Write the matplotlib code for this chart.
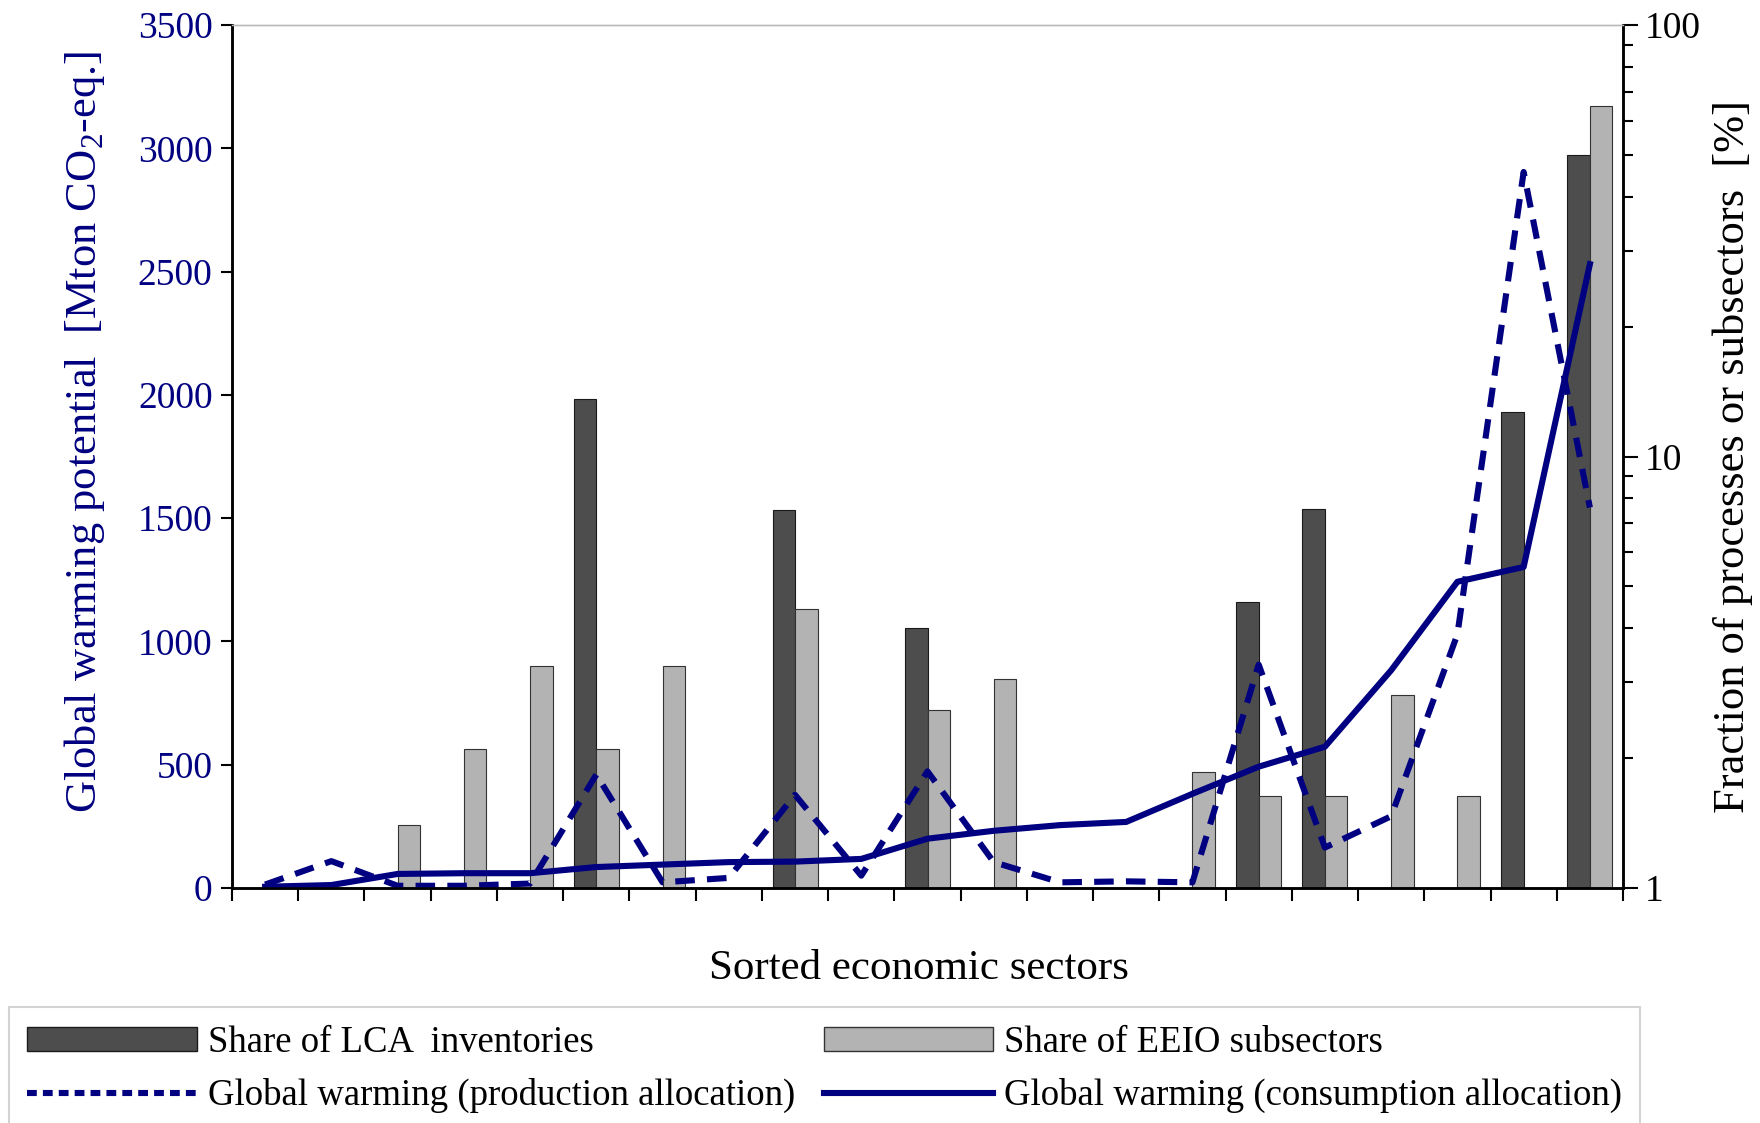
import numpy as np
import matplotlib.pyplot as plt
from matplotlib.lines import Line2D
from matplotlib.patches import Patch

plt.rcParams['font.family'] = ['Liberation Serif', 'DejaVu Serif']
plt.rcParams['mathtext.fontset'] = 'custom'
plt.rcParams['mathtext.rm'] = 'Liberation Serif'

# 21 sorted economic sectors
sectors = np.arange(21)

# share of LCA inventories / EEIO subsectors [%] (nan = no bar)
nan = np.nan
lca_share = [nan, nan, nan, nan, nan, 13.6, nan, nan, 7.5, nan, 4.0,
             nan, nan, nan, nan, 4.6, 7.55, nan, nan, 12.7, 50.0]
eeio_share = [nan, nan, 1.40, 2.10, 3.27, 2.10, 3.27, nan, 4.44, nan, 2.58,
              3.05, nan, nan, 1.86, 1.63, 1.63, 2.80, 1.63, nan, 65.0]

# global warming potential [Mton CO2-eq.]
gwp_production = [14, 109, 9, 9, 18, 460, 23, 41, 378, 50, 473,
                  105, 23, 27, 23, 906, 164, 291, 1029, 2904, 1543]
gwp_consumption = [5, 12, 57, 60, 60, 85, 95, 105, 107, 118, 200,
                   232, 255, 268, 382, 492, 573, 883, 1242, 1302, 2530]

navy = '#000080'
dark = '#4d4d4d'
light = '#b3b3b3'

fig = plt.figure(figsize=(17.6, 11.23), dpi=100)
ax = fig.add_axes([232/1760, 1-888/1123, 1391/1760, 863/1123])
ax2 = ax.twinx()

# bars on the right (log) axis
w = 0.34
lca = np.array(lca_share)
eeio = np.array(eeio_share)
ax2.bar(sectors - w/2, lca - 1, bottom=1, width=w, color=dark,
        edgecolor='#1a1a1a', linewidth=0.8)
ax2.bar(sectors + w/2, eeio - 1, bottom=1, width=w, color=light,
        edgecolor='#333333', linewidth=0.8)
ax2.set_yscale('log')
ax2.set_ylim(1, 100)
ax2.set_yticks([1, 10, 100])
ax2.set_yticklabels(['1', '10', '100'])
ax2.tick_params(axis='y', which='major', direction='out', length=11, width=1.5,
                labelsize=27, pad=5)
ax2.tick_params(axis='y', which='minor', direction='out', length=7, width=1.5)
ax2.yaxis.set_minor_formatter(plt.NullFormatter())
ax2.set_ylabel('Fraction of processes or subsectors  [%]', fontsize=32)
ax2.yaxis.label.set_va('center')
ax2.yaxis.set_label_coords(1.079, 0.5)

# lines on the left axis, drawn above the bars
ax.set_zorder(ax2.get_zorder() + 1)
ax.patch.set_visible(False)
ax.plot(sectors, gwp_production, color=navy, lw=4.4, dashes=(3.2, 2.0))
ax.plot(sectors, gwp_consumption, color=navy, lw=4.4)
ax.set_xlim(-0.5, 20.5)
ax.set_ylim(0, 3500)
ax.set_yticks(np.arange(0, 3501, 500))
ax.set_xticks(np.arange(-0.5, 21, 1))
ax.set_xticklabels([])
ax.tick_params(axis='x', direction='out', length=9, width=1.5)
ax.tick_params(axis='y', direction='out', length=8, width=1.5,
               labelsize=27, labelcolor=navy, pad=6)
ax.set_ylabel('Global warming potential  [Mton CO$_2$-eq.]', fontsize=32, color=navy)
ax.yaxis.label.set_va('center')
ax.yaxis.set_label_coords(-0.106, 0.529)
ax.set_xlabel('Sorted economic sectors', fontsize=31)
ax.xaxis.label.set_va('center')
ax.xaxis.set_label_coords(0.494, -0.094)

for a in (ax, ax2):
    a.spines['top'].set_color('#bbbbbb')
    a.spines['top'].set_linewidth(1)
    for s in ('left', 'right', 'bottom'):
        a.spines[s].set_linewidth(1.8)

handles = [Patch(facecolor=dark, edgecolor='#1a1a1a'),
           Line2D([], [], color=navy, lw=4.4, dashes=(1.6, 1.0)),
           Patch(facecolor=light, edgecolor='#333333'),
           Line2D([], [], color=navy, lw=4.4)]
labels = ['Share of LCA  inventories',
          'Global warming (production allocation)',
          'Share of EEIO subsectors',
          'Global warming (consumption allocation)']
leg = fig.legend(handles, labels, loc='upper left', ncol=2,
                 bbox_to_anchor=(9/1760, 1-1007/1123), borderaxespad=0,
                 fontsize=26.5, frameon=True, fancybox=False, edgecolor='#c8c8c8',
                 handlelength=4.6, handleheight=0.6, handletextpad=0.3,
                 columnspacing=0.78, labelspacing=0.5, borderpad=0.5)
leg.get_frame().set_linewidth(1.5)

fig.savefig('out.png', dpi=100)
